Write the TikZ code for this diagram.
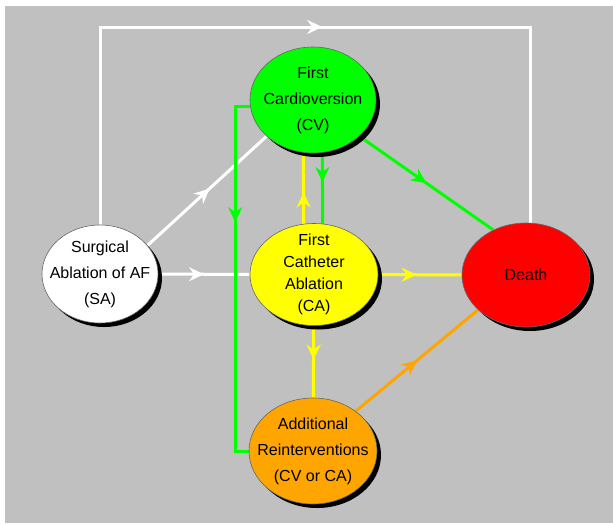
\documentclass[tikz,border=0pt]{standalone}
\usepackage{fontspec}
\setmainfont{Liberation Sans}
\usetikzlibrary{arrows.meta,decorations.markings,shadows,shapes.geometric,calc}
\pgfdeclarelayer{bg}
\pgfdeclarelayer{lines}
\pgfsetlayers{bg,lines,main}
\definecolor{bggray}{HTML}{C0C0C0}
\definecolor{cvgreen}{HTML}{00FF00}
\definecolor{cayellow}{HTML}{FFFF00}
\definecolor{deathred}{HTML}{FF0000}
\definecolor{addorange}{HTML}{FFA500}
\begin{document}
\begin{tikzpicture}[x=1pt,y=-1pt,
  state/.style={ellipse, draw=black!60, line width=0.6pt, inner sep=0pt,
    drop shadow={shadow xshift=4pt, shadow yshift=-4pt, opacity=1, fill=black}},
  lbl/.style={align=center, font=\fontsize{16}{26}\selectfont, inner sep=0pt},
  lblcompact/.style={align=center, font=\fontsize{16}{22}\selectfont, inner sep=0pt},
  conn/.style={line width=3pt},
  midarrow/.style={postaction={decorate}, decoration={markings,
    mark=at position #1 with {\arrow{Stealth[length=15pt,width=14pt,inset=5pt]}}}}
]
\useasboundingbox (0,0) rectangle (613,523);
\begin{pgfonlayer}{bg}
  \fill[white] (0,0) rectangle (613,523);
  \fill[bggray] (5,6) rectangle (613,523);
\end{pgfonlayer}

\node[state, fill=white, minimum width=116pt, minimum height=98pt] (sa) at (100,274) {};
\node[state, fill=cvgreen, minimum width=126pt, minimum height=106pt] (cv) at (313,100) {};
\node[state, fill=cayellow, minimum width=128pt, minimum height=102pt] (ca) at (314,274.5) {};
\node[state, fill=deathred, minimum width=128pt, minimum height=104pt] (death) at (526,275) {};
\node[state, fill=addorange, minimum width=128pt, minimum height=106pt] (add) at (313,451) {};

\node[lbl] (satxt) at (sa) {Surgical\\Ablation of AF\\(SA)};
\node[lbl] (cvtxt) at (cv) {First\\Cardioversion\\(CV)};
\node[lblcompact] (catxt) at (ca) {First\\Catheter\\Ablation\\(CA)};
\node[lbl] (deathtxt) at (death) {Death};
\node[lbl] (addtxt) at (add) {Additional\\Reinterventions\\(CV or CA)};

\coordinate (toprow) at (0,27);

\begin{pgfonlayer}{lines}
  \draw[conn, white, midarrow=0.51] (sa.north) -- (sa.north |- toprow) -| ([xshift=4pt]death.north);
  \draw[conn, white, midarrow=0.52] (sa.31) -- (cv.218);
  \draw[conn, white, midarrow=0.5] (sa) -- (ca);
  \draw[conn, cvgreen, midarrow=0.35] (cv.186) -- ++(-15,0) |- (add.west);
  \draw[conn, cvgreen, midarrow=0.47] ([xshift=9pt]cv.center) -- ([xshift=9pt]ca.center);
  \draw[conn, cayellow, midarrow=0.47] ([xshift=-10pt]ca.center) -- ([xshift=-10pt]cv.center);
  \draw[conn, cvgreen, midarrow=0.5] (cv.322) -- (death.126);
  \draw[conn, cayellow, midarrow=0.46] (ca) -- (death);
  \draw[conn, cayellow, midarrow=0.47] (ca) -- (add);
  \draw[conn, addorange, midarrow=0.5] (add.43) -- (death.216);
\end{pgfonlayer}
\end{tikzpicture}
\end{document}
